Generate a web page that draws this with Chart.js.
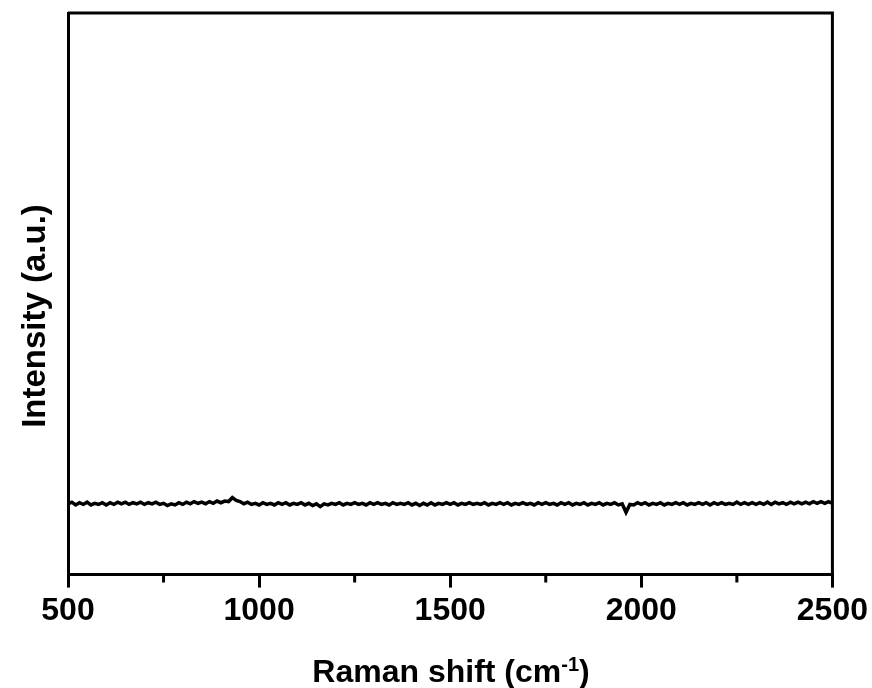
<!DOCTYPE html>
<html>
<head>
<meta charset="utf-8">
<script src="https://cdn.jsdelivr.net/npm/chart.js@4.4.1/dist/chart.umd.min.js"></script>
<style>
  html, body { margin: 0; padding: 0; background: #fff; }
  #wrap { width: 872px; height: 688px; }
</style>
</head>
<body>
<div id="wrap"><canvas id="raman"></canvas></div>
<script>
// Spectrum sampling (cm-1)
const shiftStart = 500;
const shiftStep = 10;

// Measured intensity (a.u.), one value per sample
const intensity = [
  12.6, 12.9, 12.4, 12.8, 12.5, 12.9, 12.4, 12.7, 12.5, 12.8,
  12.4, 12.8, 12.5, 12.9, 12.6, 12.9, 12.5, 12.8, 12.6, 12.9,
  12.5, 12.8, 12.6, 12.9, 12.5, 12.7, 12.3, 12.6, 12.4, 12.8,
  12.5, 12.9, 12.6, 13.0, 12.7, 12.9, 12.6, 13.0, 12.7, 13.1,
  12.8, 13.1, 13.0, 13.7, 13.2, 13.0, 12.6, 12.9, 12.5, 12.7,
  12.4, 12.8, 12.5, 12.7, 12.4, 12.8, 12.5, 12.8, 12.4, 12.7,
  12.5, 12.8, 12.4, 12.7, 12.3, 12.6, 12.1, 12.6, 12.4, 12.7,
  12.5, 12.8, 12.4, 12.7, 12.5, 12.8, 12.5, 12.7, 12.4, 12.8,
  12.5, 12.8, 12.5, 12.7, 12.4, 12.8, 12.5, 12.7, 12.5, 12.8,
  12.4, 12.7, 12.3, 12.7, 12.4, 12.8, 12.4, 12.7, 12.5, 12.8,
  12.5, 12.8, 12.4, 12.7, 12.5, 12.8, 12.5, 12.7, 12.5, 12.8,
  12.4, 12.7, 12.5, 12.8, 12.5, 12.8, 12.4, 12.7, 12.5, 12.8,
  12.5, 12.7, 12.4, 12.8, 12.5, 12.8, 12.5, 12.7, 12.4, 12.8,
  12.5, 12.8, 12.4, 12.7, 12.5, 12.8, 12.4, 12.7, 12.5, 12.8,
  12.4, 12.7, 12.5, 12.8, 12.4, 12.6, 11.1, 12.5, 12.4, 12.8,
  12.5, 12.8, 12.4, 12.7, 12.5, 12.8, 12.4, 12.7, 12.5, 12.8,
  12.5, 12.8, 12.4, 12.7, 12.5, 12.8, 12.5, 12.8, 12.4, 12.8,
  12.5, 12.8, 12.5, 12.7, 12.5, 12.9, 12.5, 12.8, 12.5, 12.8,
  12.5, 12.8, 12.5, 12.9, 12.5, 12.9, 12.6, 12.8, 12.5, 12.9,
  12.6, 12.9, 12.6, 12.9, 12.6, 13.0, 12.7, 13.0, 12.7, 13.0,
  12.7
];

// Axis ticks
const majorTicks = [500, 1000, 1500, 2000, 2500];
const minorTicks = [750, 1250, 1750, 2250];

const FONT = "'Liberation Sans', Arial, Helvetica, sans-serif";

const points = intensity.map((v, i) => ({ x: shiftStart + i * shiftStep, y: v }));

// Closed frame, minor ticks and the two axis titles
const framePlugin = {
    id: 'frame',
    afterDraw(chart) {
        const { ctx, chartArea: a, scales } = chart;
        ctx.save();
        ctx.strokeStyle = '#000';
        ctx.lineWidth = 3;
        ctx.beginPath();
        ctx.moveTo(a.left, a.top);
        ctx.lineTo(a.right, a.top);
        ctx.lineTo(a.right, a.bottom);
        ctx.stroke();

        ctx.beginPath();
        minorTicks.forEach(t => {
            const px = scales.x.getPixelForValue(t);
            ctx.moveTo(px, a.bottom);
            ctx.lineTo(px, a.bottom + 8);
        });
        ctx.stroke();

        ctx.fillStyle = '#000';

        // y title
        ctx.save();
        ctx.translate(45, 316);
        ctx.rotate(-Math.PI / 2);
        ctx.font = 'bold 33px ' + FONT;
        ctx.textAlign = 'center';
        ctx.textBaseline = 'alphabetic';
        ctx.fillText('Intensity (a.u.)', 0, 0);
        ctx.restore();

        // x title with superscript
        const main = 'bold 32px ' + FONT;
        const sup = 'bold 20px ' + FONT;
        ctx.textBaseline = 'alphabetic';
        ctx.textAlign = 'left';
        ctx.font = main;
        const w1 = ctx.measureText('Raman shift (cm').width;
        const w3 = ctx.measureText(')').width;
        ctx.font = sup;
        const w2 = ctx.measureText('-1').width;
        const total = w1 + w2 + w3;
        let x = 451 - total / 2;
        const base = 682;
        ctx.font = main;
        ctx.fillText('Raman shift (cm', x, base);
        x += w1;
        ctx.font = sup;
        ctx.fillText('-1', x, base - 11);
        x += w2;
        ctx.font = main;
        ctx.fillText(')', x, base);
        ctx.restore();
    }
};

new Chart(document.getElementById('raman'), {
    type: 'line',
    data: {
        datasets: [{
            data: points,
            borderColor: '#000',
            borderWidth: 3.5,
            pointRadius: 0,
            tension: 0,
            fill: false
        }]
    },
    options: {
        responsive: true,
        maintainAspectRatio: false,
        animation: false,
        layout: { padding: { left: 60, right: 38, top: 13, bottom: 54 } },
        plugins: {
            legend: { display: false },
            tooltip: { enabled: false }
        },
        scales: {
            x: {
                type: 'linear',
                min: 500,
                max: 2500,
                afterBuildTicks: scale => {
                    scale.ticks = majorTicks.map(v => ({ value: v }));
                },
                ticks: {
                    color: '#000',
                    padding: 4,
                    maxRotation: 0,
                    callback: v => String(v),
                    font: { family: FONT, size: 32, weight: 'bold' }
                },
                grid: {
                    display: true,
                    drawOnChartArea: false,
                    drawTicks: true,
                    tickLength: 13,
                    lineWidth: 3,
                    color: '#000'
                },
                border: { display: true, color: '#000', width: 3 }
            },
            y: {
                min: 0,
                max: 100,
                ticks: { display: false },
                grid: { display: false },
                border: { display: true, color: '#000', width: 3 }
            }
        }
    },
    plugins: [framePlugin]
});
</script>
</body>
</html>
